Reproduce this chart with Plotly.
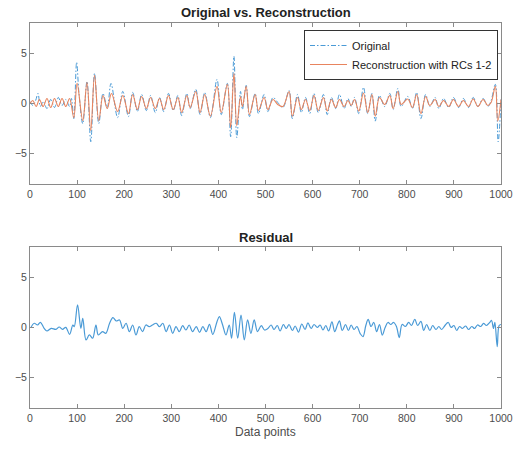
import plotly.graph_objects as go

# Reconstruction from RCs 1-2: turning points (sample index, amplitude)
rc_x = [0, 6, 13, 20, 28, 36, 44, 52, 60, 68, 76, 84, 93, 100, 112, 121, 129, 137, 146,
        155, 164, 173, 186, 197, 209, 218, 228, 237, 247, 256, 266, 275, 284, 294, 304,
        314, 322, 333, 340, 352, 361, 371, 383, 397, 406, 419, 426, 433, 439, 447, 451,
        459, 466, 478, 485, 497, 505, 516, 526, 537, 550, 557, 568, 576, 585, 594, 603,
        612, 623, 631, 640, 649, 657, 667, 675, 682, 689, 698, 708, 717, 726, 733, 742,
        753, 764, 771, 781, 788, 802, 812, 821, 830, 840, 849, 860, 868, 878, 889, 899,
        910, 920, 931, 941, 951, 962, 972, 979, 988, 993, 1000]
rc_y = [0.0, 0.3, -0.3, 0.4, -0.3, 0.5, -0.4, 0.5, -0.3, 0.5, -0.3, 0.5, -1.4, 2.0, -1.7,
        2.1, -2.7, 2.8, -1.7, 0.8, -0.5, 1.0, -0.8, 0.8, -1.0, 0.9, -0.6, 0.7, -0.5, 0.6,
        -0.5, 0.5, -0.6, 0.8, -0.6, 0.6, -0.9, 0.8, -0.4, 1.2, -0.9, 0.9, -1.25, 1.7, -0.9,
        1.9, -2.4, 3.0, -2.2, 0.7, -0.3, 1.7, -1.1, 0.9, -0.7, 0.6, -0.6, 0.4, -0.1, -0.3,
        1.2, -1.25, 0.6, -0.6, 0.4, -0.7, 0.8, -0.7, 0.6, -0.75, 0.4, -0.4, 0.4, -0.3, 0.3,
        -0.2, 0.4, -0.75, 1.05, -0.9, 0.9, -1.25, 0.6, -0.1, 0.8, -0.5, 1.2, -0.1, 0.45,
        -0.4, 0.9, -1.0, 0.7, -0.2, 0.4, -0.3, 0.3, -0.3, 0.4, -0.3, 0.3, -0.3, 0.45, -0.3,
        0.4, -0.2, 0.1, 1.7, -1.75, 0.4]

# Original series: turning points
orig_x = [0, 6, 12, 17, 22, 28, 36, 44, 52, 60, 68, 76, 84, 88, 93, 99, 104, 112, 121, 129,
          137, 146, 155, 164, 172, 186, 197, 209, 218, 228, 237, 247, 256, 266, 275, 284,
          294, 304, 314, 322, 333, 340, 352, 361, 371, 383, 397, 406, 419, 426, 433, 439,
          447, 451, 459, 466, 478, 485, 497, 505, 516, 526, 537, 550, 557, 568, 576, 585,
          594, 603, 612, 623, 631, 640, 649, 657, 667, 675, 682, 689, 698, 708, 717, 726,
          733, 742, 753, 764, 771, 781, 788, 802, 812, 821, 830, 840, 849, 860, 868, 878,
          889, 899, 910, 920, 931, 941, 951, 962, 972, 979, 988, 994, 1000]
orig_y = [0.2, -0.2, 0.3, 1.0, -0.3, 0.2, -0.5, 0.4, -0.4, 0.6, -0.2, 0.4, -0.3, 0.5, -1.5,
          4.1, 1.0, -2.0, 2.2, -3.8, 3.0, -2.0, 1.0, -0.4, 2.0, -1.4, 1.2, -1.3, 1.1, -0.8,
          0.9, -0.7, 0.8, -0.9, 0.6, -0.8, 1.0, -0.7, 0.8, -1.2, 1.0, -0.5, 1.4, -1.1, 1.1,
          -1.4, 2.4, -1.1, 2.0, -3.3, 4.7, -3.4, 1.2, -0.6, 1.8, -1.3, 1.0, -1.0, 0.9, -0.8,
          0.6, 0.1, -0.4, 1.3, -1.5, 0.9, -0.9, 0.6, -1.0, 1.0, -0.9, 0.9, -1.1, 0.6, -0.5,
          0.9, -0.5, 0.5, -0.3, 0.6, -1.0, 1.6, -1.0, 1.0, -1.75, 0.8, -0.3, 1.0, -0.6, 1.5,
          -0.3, 0.7, -0.5, 1.1, -1.5, 0.9, -0.3, 0.6, -0.5, 0.5, -0.4, 0.6, -0.4, 0.5, -0.4,
          0.6, -0.3, 0.5, -0.3, 0.3, 1.9, -3.8, 0.4]

# Residual (original minus reconstruction): turning points
res_x = [2, 9, 16, 22, 30, 36, 45, 55, 62, 69, 76, 84, 91, 94, 101, 108, 112, 119, 126, 133,
         140, 145, 154, 161, 169, 176, 183, 190, 197, 204, 211, 218, 225, 232, 239, 246,
         253, 260, 268, 275, 282, 289, 296, 303, 310, 317, 324, 331, 338, 345, 353, 360,
         367, 374, 381, 388, 397, 402, 409, 416, 423, 428, 434, 441, 448, 455, 462, 469,
         476, 483, 491, 498, 505, 512, 518, 525, 531, 538, 544, 550, 557, 563, 570, 577,
         584, 590, 597, 603, 610, 616, 622, 628, 634, 641, 647, 653, 657, 663, 670, 676,
         682, 688, 694, 701, 707, 713, 718, 724, 730, 736, 742, 748, 754, 760, 766, 772,
         778, 784, 790, 797, 804, 810, 817, 823, 830, 836, 842, 849, 855, 862, 868, 874,
         881, 888, 894, 900, 906, 912, 918, 925, 931, 938, 944, 950, 957, 963, 969, 976,
         980, 984, 987, 992, 996, 1000]
res_y = [0.0, 0.42, 0.25, 0.51, -0.08, -0.35, -0.08, -0.18, 0.05, -0.18, 0.02, -0.68, 0.25,
         0.08, 2.24, -0.08, 0.91, -1.24, -0.74, -1.07, 0.25, -0.74, -0.41, -0.58, 0.42, 0.98,
         0.65, 0.75, -0.08, 0.42, -0.41, 0.25, -0.74, 0.08, -0.41, 0.25, 0.08, 0.25, 0.42,
         0.08, 0.42, -0.41, 0.25, -0.58, 0.08, -0.41, 0.18, -0.25, 0.25, -0.41, 0.08, -0.48,
         0.08, -0.41, 0.32, -0.68, 0.58, 1.08, 0.25, -0.74, 0.25, -1.07, 1.51, -1.07, 1.24,
         -1.24, 0.75, -0.58, 0.75, -0.41, 0.18, -0.25, -0.1, 0.25, -0.2, 0.2, -0.35, 0.3,
         -0.1, 0.3, -0.3, 0.15, -0.45, 0.35, -0.2, 0.45, -0.1, 0.3, 0.0, 0.25, -0.25, 0.2,
         -0.35, 0.55, -0.4, 0.3, 0.65, -0.3, 0.3, -0.3, 0.25, -0.2, 0.1, -0.6, -0.9, 0.2, 0.8,
         0.1, 0.5, -0.4, 0.3, -0.75, 0.0, 0.5, 0.3, 0.5, 0.1, -1.0, 0.3, 0.1, 0.5, 0.2, 0.8,
         0.2, 0.6, -0.3, 0.3, -0.3, 0.2, -0.2, 0.1, -0.2, 0.2, 0.5, 0.0, 0.2, -0.3, 0.1, -0.1,
         0.15, -0.2, 0.1, -0.1, 0.25, 0.1, 0.4, 0.2, 0.5, 0.7, -0.1, 0.5, -1.9, 0.2, 0.3]

x_ticks = list(range(0, 1001, 100))
y_ticks = [-5, 0, 5]

BLUE = "#4A9AD6"
ORANGE = "#E8845E"
AXIS = "#8a8a8a"
TXT = "#4d4d4d"
FONT = "Liberation Sans, Arial, sans-serif"

W, H = 532, 451
ML, MR, MT, MB = 30, 31, 23, 43

fig = go.Figure()
fig.add_trace(go.Scatter(x=orig_x, y=orig_y, mode="lines", name="Original",
                         line=dict(color=BLUE, width=1, dash="5px,2px,1.5px,2px",
                                   shape="spline", smoothing=1.0),
                         xaxis="x", yaxis="y"))
fig.add_trace(go.Scatter(x=rc_x, y=rc_y, mode="lines", name="Reconstruction with RCs 1-2",
                         line=dict(color=ORANGE, width=1.1, shape="spline", smoothing=1.0),
                         xaxis="x", yaxis="y"))
fig.add_trace(go.Scatter(x=res_x, y=res_y, mode="lines", name="Residual", showlegend=False,
                         line=dict(color=BLUE, width=1.2, shape="spline", smoothing=1.0),
                         xaxis="x2", yaxis="y2"))

plot_h = H - MT - MB
top_dom = [(H - MB - 184) / plot_h, 1.0]
bot_dom = [0.0, (H - MB - 247) / plot_h]

axis_common = dict(showgrid=False, zeroline=False, showline=True, linecolor=AXIS,
                   linewidth=1, mirror="allticks", ticks="inside", ticklen=4,
                   tickcolor=AXIS, tickfont=dict(family=FONT, size=10.5, color=TXT))

fig.update_layout(
    width=W, height=H,
    margin=dict(l=ML, r=MR, t=MT, b=MB),
    paper_bgcolor="white", plot_bgcolor="white",
    font=dict(family=FONT, color=TXT),
    xaxis=dict(domain=[0, 1], anchor="y", range=[0, 1000], tickvals=x_ticks, **axis_common),
    yaxis=dict(domain=top_dom, anchor="x", range=[-8, 8], tickvals=y_ticks, **axis_common),
    xaxis2=dict(domain=[0, 1], anchor="y2", range=[0, 1000], tickvals=x_ticks, **axis_common),
    yaxis2=dict(domain=bot_dom, anchor="x2", range=[-8, 8], tickvals=y_ticks, **axis_common),
    legend=dict(x=(304 - ML) / (W - ML - MR), y=(H - MB - 30) / plot_h,
                xanchor="left", yanchor="top", bgcolor="white",
                bordercolor="#333333", borderwidth=1,
                font=dict(family=FONT, size=11, color="#222222"),
                tracegroupgap=0, itemwidth=37),
    showlegend=True,
)

fig.add_annotation(text="<b>Original vs. Reconstruction</b>", xref="paper", yref="paper",
                   x=0.5, y=(H - MB - 13) / plot_h, showarrow=False,
                   font=dict(family=FONT, size=13, color="#222222"), yanchor="middle")
fig.add_annotation(text="<b>Residual</b>", xref="paper", yref="paper",
                   x=0.5, y=(H - MB - 237) / plot_h, showarrow=False,
                   font=dict(family=FONT, size=13, color="#222222"), yanchor="middle")
fig.add_annotation(text="Data points", xref="paper", yref="paper",
                   x=0.5, y=(H - MB - 432) / plot_h, showarrow=False,
                   font=dict(family=FONT, size=12, color=TXT), yanchor="middle")

fig.write_html("out.html")
